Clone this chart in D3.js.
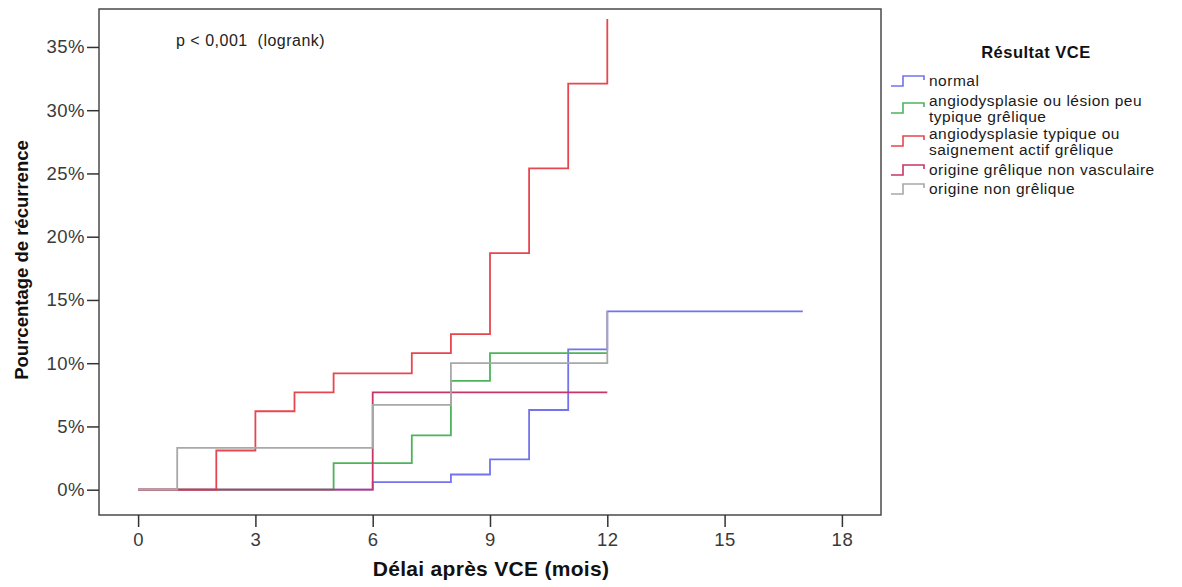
<!DOCTYPE html>
<html>
<head>
<meta charset="utf-8">
<script src="https://cdn.jsdelivr.net/npm/d3@7"></script>
<style>
  html, body { margin: 0; padding: 0; background: #fff; }
  svg { display: block; font-family: "Liberation Sans", Arial, sans-serif; }
</style>
</head>
<body>
<svg id="chart" width="1182" height="587"></svg>
<script>
// ---- data ----
const seriesNames = [
  ["normal"],
  ["angiodysplasie ou lésion peu", "typique grêlique"],
  ["angiodysplasie typique ou", "saignement actif grêlique"],
  ["origine grêlique non vasculaire"],
  ["origine non grêlique"]
];
const seriesColors = ["#7373ee", "#4db35c", "#e8464f", "#c8356a", "#a8a8a8"];

const normalTimes  = [0, 6, 8, 9, 10, 11, 12, 17];
const normalValues = [0, 0.6, 1.2, 2.4, 6.3, 11.1, 14.1, 14.1];

const angioPeuTimes  = [0, 5, 7, 8, 9, 12];
const angioPeuValues = [0, 2.1, 4.3, 8.6, 10.8, 10.8];

const angioTypTimes  = [0, 2, 3, 4, 5, 7, 8, 9, 10, 11, 12];
const angioTypValues = [0, 3.1, 6.2, 7.7, 9.2, 10.8, 12.3, 18.7, 25.4, 32.1, 37.2];

const nonVascTimes  = [0, 6, 12];
const nonVascValues = [0, 7.7, 7.7];

const nonGrelTimes  = [0, 1, 6, 8, 12];
const nonGrelValues = [0, 3.3, 6.7, 10.0, 14.1];

const xTicks = [0, 3, 6, 9, 12, 15, 18];
const yTicks = [0, 5, 10, 15, 20, 25, 30, 35];

const pText = "p < 0,001  (logrank)";
const xTitle = "Délai après VCE (mois)";
const yTitle = "Pourcentage de récurrence";
const legendTitle = "Résultat VCE";

// ---- layout ----
const svg = d3.select("#chart");
const L = 99, R = 881, T = 9, B = 515;

const x = d3.scaleLinear().domain([-1, 19]).range([L, R]);
const y = d3.scaleLinear().domain([-2, 38]).range([B, T]);

const series = [
  {times: normalTimes, values: normalValues},
  {times: angioPeuTimes, values: angioPeuValues},
  {times: angioTypTimes, values: angioTypValues},
  {times: nonVascTimes, values: nonVascValues},
  {times: nonGrelTimes, values: nonGrelValues}
].map((s, i) => ({
  pts: s.times.map((t, j) => [t, s.values[j]]),
  color: seriesColors[i],
  name: seriesNames[i]
}));

// frame
svg.append("rect")
  .attr("x", L).attr("y", T).attr("width", R - L).attr("height", B - T)
  .attr("fill", "none").attr("stroke", "#4a4a4a").attr("stroke-width", 1.5);

// axes
const xAxis = d3.axisBottom(x).tickValues(xTicks).tickSize(12).tickPadding(6);
const gx = svg.append("g").attr("transform", `translate(0,${B})`).call(xAxis);
gx.select(".domain").remove();
gx.selectAll(".tick line").attr("stroke", "#333").attr("stroke-width", 1.5);
gx.selectAll(".tick text").attr("fill", "#3a3a3a").style("font-size", "18.5px")
  .style("letter-spacing", "0.5px").attr("font-family", "Liberation Sans, Arial, sans-serif");

const yAxis = d3.axisLeft(y).tickValues(yTicks).tickSize(12).tickPadding(2)
  .tickFormat(d => d + "%");
const gy = svg.append("g").attr("transform", `translate(${L},0)`).call(yAxis);
gy.select(".domain").remove();
gy.selectAll(".tick line").attr("stroke", "#333").attr("stroke-width", 1.5);
gy.selectAll(".tick text").attr("fill", "#3a3a3a").style("font-size", "18.5px")
  .style("letter-spacing", "0.5px").attr("font-family", "Liberation Sans, Arial, sans-serif");

// curves
const line = d3.line().x(d => x(d[0])).y(d => y(d[1])).curve(d3.curveStepAfter);
svg.append("g").selectAll("path").data(series).join("path")
  .attr("d", d => line(d.pts))
  .attr("fill", "none")
  .attr("stroke", d => d.color)
  .attr("stroke-width", 1.8);

// p value
svg.append("text").attr("x", 176).attr("y", 46)
  .style("font-size", "16px").style("letter-spacing", "0.5px")
  .attr("fill", "#222").attr("xml:space", "preserve").style("white-space", "pre")
  .text(pText);

// axis titles
svg.append("text").attr("x", 491).attr("y", 576).attr("text-anchor", "middle")
  .style("font-size", "21px").style("font-weight", "bold").style("letter-spacing", "0.3px")
  .attr("fill", "#111")
  .text(xTitle);
svg.append("text").attr("transform", "translate(28,260) rotate(-90)")
  .attr("text-anchor", "middle")
  .style("font-size", "18.5px").style("font-weight", "bold").attr("fill", "#111")
  .text(yTitle);

// legend
const lg = svg.append("g");
lg.append("text").attr("x", 1036).attr("y", 58).attr("text-anchor", "middle")
  .style("font-size", "16.5px").style("font-weight", "bold").style("letter-spacing", "0.5px")
  .attr("fill", "#111").text(legendTitle);

const legendRows = [86, 113, 146, 175, 194];
const symLine = d3.line();
series.forEach((s, i) => {
  const yl = legendRows[i];
  const g = lg.append("g").attr("transform", `translate(891,${yl})`);
  g.append("path")
    .attr("d", symLine([[0, 0], [12, 0], [12, -10], [33, -10], [33, -6]]))
    .attr("fill", "none").attr("stroke", s.color).attr("stroke-width", 1.6);
  const t = g.append("text").attr("x", 38)
    .style("font-size", "15.5px").style("letter-spacing", "0.5px").attr("fill", "#1a1a1a");
  if (s.name.length === 1) {
    t.attr("y", 0).text(s.name[0]);
  } else {
    t.append("tspan").attr("x", 38).attr("y", -7).text(s.name[0]);
    t.append("tspan").attr("x", 38).attr("y", 8.5).text(s.name[1]);
  }
});
</script>
</body>
</html>
